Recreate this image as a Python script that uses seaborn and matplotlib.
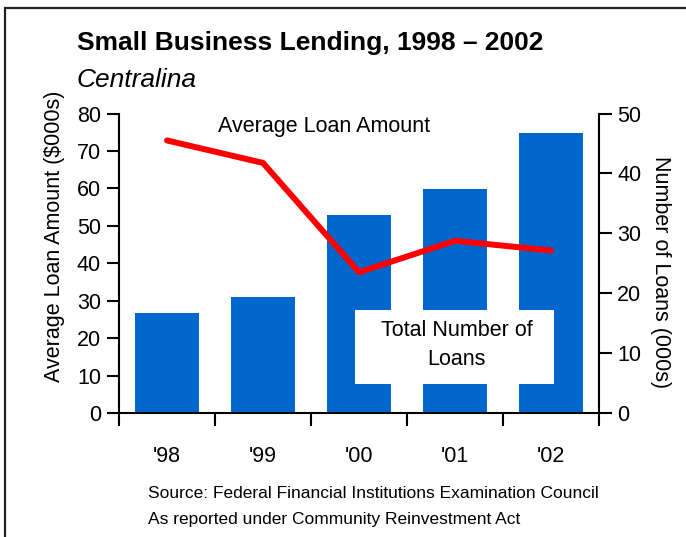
import matplotlib
matplotlib.use("Agg")
import matplotlib.pyplot as plt
from matplotlib.patches import Rectangle
from matplotlib.ticker import FixedLocator, NullFormatter
import seaborn as sns
import pandas as pd
import numpy as np

# Data
years = ["'98", "'99", "'00", "'01", "'02"]
loan_counts = [16.7, 19.4, 33.0, 37.4, 46.7]   # number of loans (000s)
avg_amounts = [72.8, 66.8, 37.6, 46.0, 43.4]   # average loan amount ($000s)
left_ticks = [0, 10, 20, 30, 40, 50, 60, 70, 80]
right_ticks = [0, 10, 20, 30, 40, 50]

sns.set_theme(style="white")
plt.rcParams["font.family"] = ["Liberation Sans", "DejaVu Sans"]
plt.rcParams["text.color"] = "black"
plt.rcParams["axes.labelcolor"] = "black"

BLUE = "#0066CC"
RED = "#FF0000"
FS = 15.5

df = pd.DataFrame({"year": years, "loans": loan_counts, "amount": avg_amounts})
df["pos"] = np.arange(len(df))

W, H = 686, 537
fig = plt.figure(figsize=(W / 100, H / 100), dpi=100)
ax = fig.add_axes([119 / W, 1 - 413 / H, 480 / W, 299.5 / H])
ax2 = ax.twinx()

# Bars: total number of loans (right-hand scale)
sns.barplot(data=df, x="year", y="loans", color=BLUE, saturation=1,
            width=0.667, linewidth=0, ax=ax, zorder=2)
ax.set_ylim(0, 50)
ax.set_xlim(-0.5, 4.5)

# Line: average loan amount (left-hand scale)
sns.lineplot(data=df, x="pos", y="amount", color=RED, linewidth=4.3,
             ax=ax2, zorder=5)
ax2.set_ylim(0, 80)
ax2.set_xlim(-0.5, 4.5)

# Swap sides: bar scale on the right, line scale on the left
ax.yaxis.tick_right()
ax.yaxis.set_label_position("right")
ax.set_yticks(right_ticks)
ax.set_ylabel("Number of Loans (000s)", rotation=-90, fontsize=FS,
              va="bottom", color="black")
ax.yaxis.set_label_coords(1.106, 0.471)
ax.set_xlabel("")

ax2.yaxis.tick_left()
ax2.yaxis.set_label_position("left")
ax2.set_yticks(left_ticks)
ax2.set_ylabel("Average Loan Amount ($000s)", fontsize=FS, color="black")
ax2.yaxis.set_label_coords(-0.1125, 0.591)
ax2.set_xlabel("")

# Category boundaries carry the tick marks, labels sit at the centres
ax.xaxis.set_major_locator(FixedLocator(np.arange(-0.5, 5, 1)))
ax.xaxis.set_major_formatter(NullFormatter())
ax.xaxis.set_minor_locator(FixedLocator(df["pos"]))
ax.set_xticklabels(years, minor=True)
ax.tick_params(axis="x", which="major", direction="out", length=9,
               width=1.5, color="black", bottom=True)
ax.tick_params(axis="x", which="minor", length=0, pad=24, labelsize=FS,
               labelcolor="black")
ax.tick_params(axis="y", direction="out", length=9, width=1.5,
               color="black", labelsize=FS, labelcolor="black", pad=4,
               right=True, left=False, labelright=True, labelleft=False)
ax2.tick_params(axis="y", direction="out", length=9, width=1.5,
                color="black", labelsize=FS, labelcolor="black", pad=4,
                left=True, right=False, labelleft=True, labelright=False)
ax2.tick_params(axis="x", which="both", bottom=False, top=False,
                labelbottom=False, labeltop=False)

for side in ["left", "right", "bottom"]:
    ax.spines[side].set_visible(True)
    ax.spines[side].set_color("black")
    ax.spines[side].set_linewidth(1.5)
ax.spines["top"].set_visible(False)
for s in ax2.spines.values():
    s.set_visible(False)

# White label panel over the lower part of the bars
ax.add_patch(Rectangle((0.4917, 0.0968), 0.4146, 0.2471,
                       transform=ax.transAxes, facecolor="white",
                       edgecolor="none", zorder=3))
ax.text(0.704, 0.228, "Total Number of\nLoans", transform=ax.transAxes,
        ha="center", va="center", fontsize=FS, linespacing=1.5,
        color="black", zorder=4)
ax2.text(0.427, 0.955, "Average Loan Amount", transform=ax2.transAxes,
         ha="center", va="center", fontsize=FS, color="black")

# Titles and source notes
fig.text(77 / W, 1 - 50 / H, "Small Business Lending, 1998 \u2013 2002",
         fontsize=19, fontweight="bold", va="baseline", ha="left")
fig.text(77 / W, 1 - 87 / H, "Centralina", fontsize=19, style="italic",
         va="baseline", ha="left")
fig.text(148 / W, 1 - 498 / H,
         "Source: Federal Financial Institutions Examination Council",
         fontsize=12.5, va="baseline", ha="left")
fig.text(148 / W, 1 - 524 / H,
         "As reported under Community Reinvestment Act",
         fontsize=12.5, va="baseline", ha="left")

# Outer frame
fig.patches.append(Rectangle((5 / W, -0.2), 1.2, 1.2 - 8 / H,
                             transform=fig.transFigure, fill=False,
                             edgecolor="#222222", linewidth=1.6))

fig.savefig("out.png", dpi=100)
